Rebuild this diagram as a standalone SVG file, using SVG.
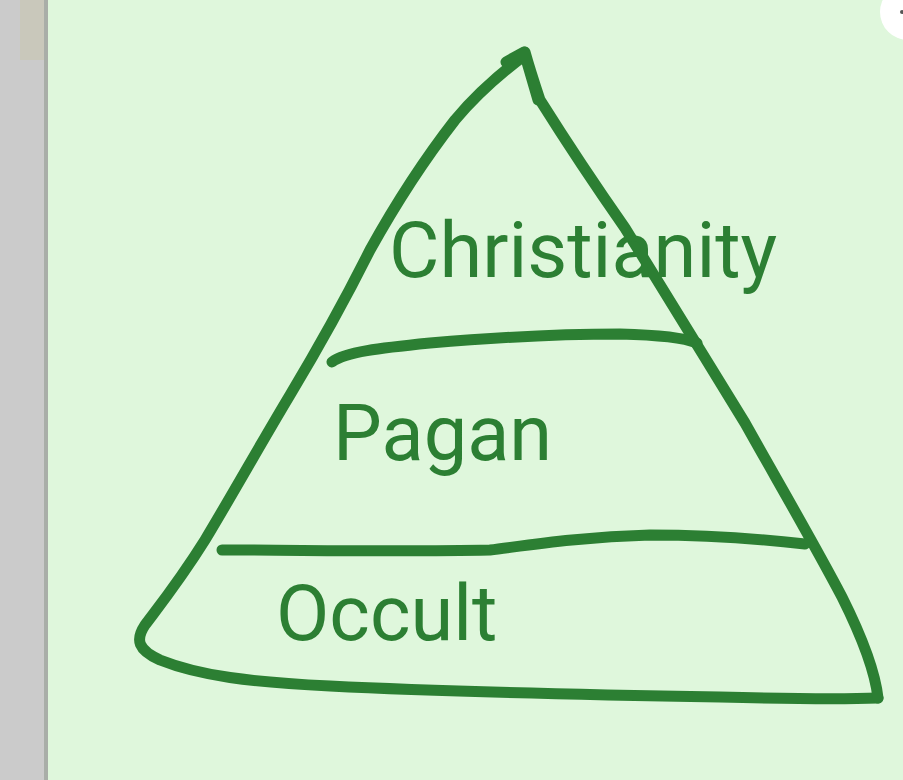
<svg xmlns="http://www.w3.org/2000/svg" width="903" height="780" viewBox="0 0 903 780">
<style>
.ink{fill:none;stroke:#2c7f33;stroke-width:11;stroke-linecap:round;stroke-linejoin:round}
.lbl{font-family:Roboto,"Liberation Sans",sans-serif;fill:#2c7f33;font-size:77.5px}
</style>
<rect x="0" y="0" width="903" height="780" fill="#dff7dc"/>
<rect x="0" y="0" width="47" height="780" fill="#cbcbcb"/>
<rect x="20" y="0" width="27" height="60" fill="#c9c8bb"/>
<rect x="44" y="0" width="4" height="780" fill="#a9aea8"/>
<circle cx="908" cy="12" r="28" fill="#ffffff"/>
<circle cx="902" cy="12" r="2" fill="#555"/>
<g id="pyramid">
<path class="ink" d="M525,55 C505,70 480,90 455,120 C420,165 395,205 370,250 C345,300 320,345 290,395 C260,445 235,490 205,540 C180,580 160,605 145,625 C135,640 138,650 160,660 C200,676 250,682 330,686 C450,692 600,695 720,697 C800,699 850,699 878,698"/>
<path class="ink" d="M525,52 C530,70 535,85 540,100 C562,135 590,178 625,228 C665,292 705,358 745,423 C778,482 812,540 842,597 C862,637 875,670 878,698"/>
<path class="ink" d="M506,62 L524,52 L538,100"/>
</g>
<g id="connectors">
<path class="ink" d="M332,362 C345,352 380,348 430,343 C500,337 560,334 620,334 C660,335 685,338 697,343"/>
<path class="ink" d="M222,550 C300,550 400,552 490,550 C530,545 580,537 650,535 C720,535 770,540 805,544"/>
</g>
<g id="christianity"><text class="lbl" x="389" y="277">Christianity</text></g>
<g id="pagan"><text class="lbl" x="333" y="460">Pagan</text></g>
<g id="occult"><text class="lbl" x="276" y="640">Occult</text></g>
</svg>
